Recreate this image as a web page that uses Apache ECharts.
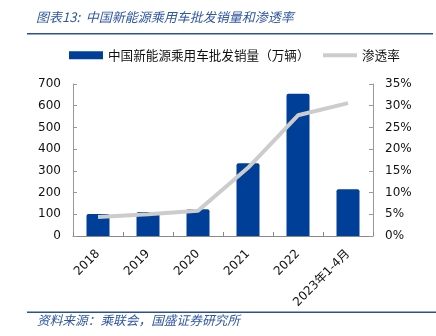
<!DOCTYPE html>
<html>
<head>
<meta charset="utf-8">
<script src="https://cdn.jsdelivr.net/npm/echarts@6/dist/echarts.min.js"></script>
<style>
  html, body { margin: 0; padding: 0; background: #fff; }
  #chart { width: 436px; height: 336px; }
</style>
</head>
<body>
<div id="chart"></div>
<script>
// NEV passenger car wholesale volume (10k units) and penetration rate
const categories = ['2018', '2019', '2020', '2021', '2022', '2023年1-4月'];
const salesVolume = [101, 110, 123, 335, 655, 215];
const penetration = [4.4, 5.0, 5.8, 15.7, 27.8, 30.6];
const leftTicks = [0, 100, 200, 300, 400, 500, 600, 700];
const rightTicks = [0, 5, 10, 15, 20, 25, 30, 35];

const BAR_NAME = '中国新能源乘用车批发销量（万辆）';
const LINE_NAME = '渗透率';

const FONT = '"Noto Sans CJK SC", "Noto Sans", sans-serif';
const TICK_FONT = '"DejaVu Sans", "Noto Sans CJK SC", sans-serif';
const TITLE_BLUE = '#2f57a3';
const BAR_BLUE = '#003f98';
const LINE_GRAY = '#cccccc';

const chart = echarts.init(document.getElementById('chart'), null, { renderer: 'canvas' });

const legendText = { fontFamily: FONT, fontSize: 12.6, color: '#111' };

chart.setOption({
  animation: false,
  backgroundColor: '#ffffff',
  graphic: [
    {
      type: 'text', left: 36, top: 11,
      style: { text: '图表13:  中国新能源乘用车批发销量和渗透率', fill: TITLE_BLUE,
               font: 'italic 13px ' + FONT }
    },
    {
      type: 'rect', shape: { x: 27, y: 33, width: 406, height: 1.5 },
      style: { fill: '#2a4f9e' }
    },
    {
      type: 'rect', shape: { x: 27, y: 311.5, width: 409, height: 1.5 },
      style: { fill: '#2a4f9e' }
    },
    {
      type: 'text', left: 37, top: 314,
      style: { text: '资料来源：乘联会，国盛证券研究所', fill: TITLE_BLUE,
               font: 'italic 12.7px ' + FONT }
    }
  ],
  legend: [
    {
      top: 49, left: 69, padding: 0,
      itemWidth: 34, itemHeight: 8, itemGap: 0,
      textStyle: legendText,
      data: [{ name: BAR_NAME, icon: 'rect' }]
    },
    {
      top: 49, left: 323, padding: 0,
      itemWidth: 34, itemHeight: 4, itemGap: 0,
      textStyle: legendText,
      data: [{ name: LINE_NAME, icon: 'rect', itemStyle: { color: LINE_GRAY } }]
    }
  ],
  grid: { left: 73, right: 63, top: 84, bottom: 100 },
  xAxis: {
    type: 'category',
    data: categories,
    axisLine: { lineStyle: { color: '#888', width: 1 } },
    axisTick: { show: true, inside: true, length: 4, lineStyle: { color: '#888' } },
    axisLabel: { rotate: 45, fontSize: 12, color: '#111', fontFamily: TICK_FONT, margin: 16 }
  },
  yAxis: [
    {
      type: 'value', min: 0, max: 700, interval: 100,
      axisLine: { show: true, lineStyle: { color: '#999' } },
      axisTick: { show: true, inside: true, length: 4, lineStyle: { color: '#999' } },
      splitLine: { show: false },
      axisLabel: { fontSize: 12, color: '#111', fontFamily: TICK_FONT, margin: 12,
                   customValues: leftTicks }
    },
    {
      type: 'value', min: 0, max: 35, interval: 5,
      position: 'right',
      axisLine: { show: true, lineStyle: { color: '#999' } },
      axisTick: { show: true, inside: true, length: 4, lineStyle: { color: '#999' } },
      splitLine: { show: false },
      axisLabel: { fontSize: 12, color: '#111', fontFamily: TICK_FONT, margin: 12,
                   formatter: v => v + '%', customValues: rightTicks }
    }
  ],
  series: [
    {
      name: BAR_NAME,
      type: 'bar',
      data: salesVolume,
      barWidth: '46%',
      itemStyle: { color: BAR_BLUE, borderRadius: [2, 2, 0, 0] }
    },
    {
      name: LINE_NAME,
      type: 'line',
      yAxisIndex: 1,
      data: penetration,
      symbol: 'none',
      lineStyle: { color: LINE_GRAY, width: 4 },
      itemStyle: { color: LINE_GRAY }
    }
  ]
});
</script>
</body>
</html>
